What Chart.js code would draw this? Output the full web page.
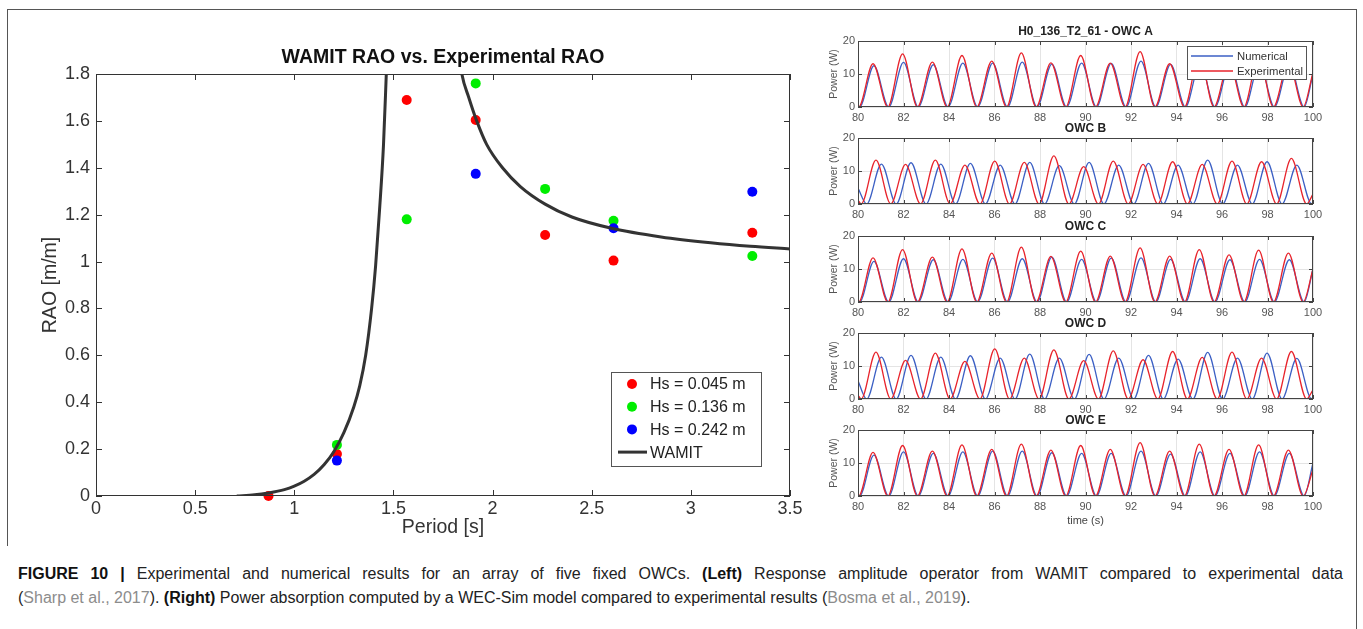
<!DOCTYPE html>
<html lang="en">
<head>
<meta charset="UTF-8">
<title>Figure 10 - OWC array</title>
<script src="https://cdn.jsdelivr.net/npm/chart.js@4.4.0/dist/chart.umd.min.js"></script>
<style>
  body { margin: 0; background: #fff; width: 1363px; height: 629px; position: relative; overflow: hidden;
         font-family: "Liberation Sans", Arial, sans-serif; }
  .frame { position: absolute; left: 7px; top: 9px; width: 1348px; height: 536px; border: 1px solid #555; border-bottom: none; }
  .frame-r { position: absolute; left: 1356px; top: 545px; width: 0; height: 84px; border-left: 1px solid #555; }
  canvas { position: absolute; }
  #rao { left: 0; top: 0; }
  .caption { position: absolute; left: 18px; top: 562px; width: 1325px; font-size: 16px; line-height: 24px; color: #222; }
  .caption .l1 { text-align: justify; text-align-last: justify; white-space: nowrap; }
  .caption .l2 { white-space: nowrap; }
  .caption b { color: #111; }
  .caption .ref { color: #8c8c8c; }
</style>
</head>
<body>
<div class="frame"></div>
<div class="frame-r"></div>
<canvas id="rao" width="815" height="545"></canvas>
<canvas id="owcA" width="563" height="130" style="left:800px;top:11px"></canvas>
<canvas id="owcB" width="563" height="130" style="left:800px;top:108px"></canvas>
<canvas id="owcC" width="563" height="130" style="left:800px;top:206px"></canvas>
<canvas id="owcD" width="563" height="130" style="left:800px;top:303px"></canvas>
<canvas id="owcE" width="563" height="130" style="left:800px;top:400px"></canvas>
<div class="caption">
  <div class="l1"><b>FIGURE 10 |</b> Experimental and numerical results for an array of five fixed OWCs. <b>(Left)</b> Response amplitude operator from WAMIT compared to experimental data</div>
  <div class="l2">(<span class="ref">Sharp et al., 2017</span>). <b>(Right)</b> Power absorption computed by a WEC-Sim model compared to experimental results (<span class="ref">Bosma et al., 2019</span>).</div>
</div>

<script>
// ---- left plot: RAO vs period ----
const raoPeriod = [0.87, 1.215, 1.567, 1.915, 2.265, 2.61, 3.31];
const raoHs045 = [0.00, 0.179, 1.689, 1.604, 1.113, 1.004, 1.123];
const raoHs136 = [null, 0.218, 1.180, 1.760, 1.310, 1.174, 1.024];
const raoHs242 = [null, 0.151, null, 1.374, null, 1.142, 1.298];

// WAMIT curve (goes off the top between ~1.46 and ~1.85 s)
const wamitPeriod = [0.71, 0.8, 0.87, 0.95, 1.0, 1.05, 1.1, 1.15, 1.2, 1.25, 1.3, 1.33, 1.36, 1.39, 1.41, 1.43, 1.45, 1.464, 1.5, 1.6,
                     1.7, 1.78, 1.845, 1.88, 1.92, 1.97, 2.05, 2.14, 2.265, 2.4, 2.6, 2.85, 3.1, 3.3, 3.5];
const wamitRAO = [0, 0.005, 0.013, 0.027, 0.042, 0.063, 0.092, 0.133, 0.19, 0.27, 0.38, 0.47, 0.6, 0.8, 0.98, 1.22, 1.5, 1.8, 2.6, 6.0,
                  3.2, 2.2, 1.8, 1.7, 1.6, 1.5, 1.4, 1.32, 1.245, 1.19, 1.142, 1.105, 1.08, 1.065, 1.054];

const raoXTicks = [0, 3.5, 0.5];   // min, max, step
const raoYTicks = [0, 1.8, 0.2];

// ---- right plots: power time series ----
const timeTicks = [80, 100, 2];
const powerTicks = [0, 20, 10];

// OWC A, C, E: numerical and experimental nearly in phase
const troughExpACE = [80.03, 81.31, 82.61, 83.92, 85.22, 86.53, 87.83, 89.13, 90.44, 91.74, 93.05, 94.35, 95.65, 96.96, 98.26, 99.57];
const peakTimeExpACE = [80.66, 81.96, 83.27, 84.57, 85.88, 87.18, 88.48, 89.79, 91.09, 92.40, 93.70, 95.00, 96.31, 97.61, 98.92];
const troughNumACE = [80.07, 81.35, 82.65, 83.96, 85.26, 86.57, 87.87, 89.17, 90.48, 91.78, 93.09, 94.39, 95.69, 97.00, 98.30, 99.61];
const peakTimeNumACE = [80.70, 82.00, 83.31, 84.61, 85.92, 87.22, 88.52, 89.83, 91.13, 92.44, 93.74, 95.04, 96.35, 97.65, 98.96];

// OWC B, D: experimental leads numerical
const troughExpBD = [80.14, 81.44, 82.75, 84.05, 85.36, 86.66, 87.96, 89.27, 90.57, 91.88, 93.18, 94.48, 95.79, 97.09, 98.40, 99.72];
const peakTimeExpBD = [80.79, 82.09, 83.40, 84.70, 86.01, 87.31, 88.61, 89.92, 91.22, 92.53, 93.83, 95.13, 96.44, 97.74, 99.05];
const troughNumBD = [80.38, 81.68, 82.99, 84.29, 85.60, 86.90, 88.20, 89.51, 90.81, 92.12, 93.42, 94.72, 96.03, 97.33, 98.64, 99.94];
const peakTimeNumBD = [81.03, 82.33, 83.64, 84.94, 86.25, 87.55, 88.85, 90.16, 91.46, 92.77, 94.07, 95.37, 96.68, 97.98, 99.29];

const peakExpA = [13.1, 16.1, 13.6, 15.6, 13.9, 16.4, 13.4, 15.6, 13.3, 16.8, 13.1, 15.5, 13.5, 15.3, 13.5];
const peakNumA = [12.5, 13.5, 12.8, 13.3, 13.3, 13.6, 13.0, 13.3, 13.2, 13.9, 12.9, 13.2, 13.0, 13.2, 13.0];
const peakExpB = [13.3, 12.0, 13.3, 11.8, 13.0, 12.6, 14.6, 11.3, 13.0, 12.0, 12.8, 12.0, 13.0, 12.8, 13.8];
const peakNumB = [12.1, 12.5, 12.1, 12.3, 11.8, 12.6, 11.6, 12.6, 11.8, 12.3, 11.8, 13.3, 11.8, 12.8, 11.8];
const peakExpC = [13.4, 15.9, 13.6, 16.1, 14.8, 16.6, 13.8, 15.4, 13.9, 16.4, 13.9, 15.9, 14.3, 15.7, 14.8];
const peakNumC = [12.3, 13.1, 12.8, 12.9, 13.3, 13.1, 13.6, 12.9, 13.3, 13.4, 12.9, 13.1, 12.8, 12.9, 12.8];
const peakExpD = [14.2, 11.7, 13.9, 11.4, 15.2, 12.4, 14.9, 11.6, 14.6, 11.9, 14.4, 12.6, 14.2, 12.4, 14.4];
const peakNumD = [12.7, 13.2, 12.7, 13.1, 12.4, 13.6, 12.4, 13.5, 12.4, 13.2, 12.1, 14.1, 12.4, 13.9, 12.3];
const peakExpE = [13.2, 15.3, 13.6, 15.5, 14.1, 15.7, 13.9, 15.3, 14.1, 16.2, 13.6, 15.7, 14.1, 15.5, 13.9];
const peakNumE = [12.4, 13.4, 12.9, 13.4, 13.6, 13.6, 13.1, 12.9, 12.9, 13.6, 12.7, 13.4, 12.9, 13.4, 12.9];

// value at t = 80 and t = 100 [exp start, exp end, num start, num end]
const edgesA = [0.2, 10.5, 0.5, 10.0];
const edgesB = [1.2, 3.0, 4.8, 0.8];
const edgesC = [0.2, 10.0, 0.5, 10.0];
const edgesD = [1.2, 2.8, 5.5, 0.8];
const edgesE = [0.2, 8.0, 0.5, 10.0];

const RED = '#e8232b', BLUE = '#3b5fc4';
const FONT = '"Liberation Sans", Arial, sans-serif';
Chart.defaults.font.family = FONT;
Chart.defaults.animation = false;

// box, inward ticks, loose texts and legend
const decor = {
  id: 'decor',
  afterDraw(chart, args, o) {
    const { ctx, chartArea: a, scales: { x, y } } = chart;
    ctx.save();
    ctx.strokeStyle = o.boxColor;
    ctx.lineWidth = 1;
    ctx.strokeRect(a.left + 0.5, a.top + 0.5, a.right - a.left - 1, a.bottom - a.top - 1);
    ctx.beginPath();
    x.ticks.forEach(t => {
      const px = Math.round(x.getPixelForValue(t.value)) + 0.5;
      ctx.moveTo(px, a.bottom); ctx.lineTo(px, a.bottom - o.tick);
      ctx.moveTo(px, a.top); ctx.lineTo(px, a.top + o.tick);
    });
    y.ticks.forEach(t => {
      const py = Math.round(y.getPixelForValue(t.value)) + 0.5;
      ctx.moveTo(a.left, py); ctx.lineTo(a.left + o.tick, py);
      ctx.moveTo(a.right, py); ctx.lineTo(a.right - o.tick, py);
    });
    ctx.stroke();

    (o.texts || []).forEach(t => {
      ctx.save();
      ctx.font = t.font;
      ctx.fillStyle = t.color || '#222';
      ctx.textAlign = 'center';
      ctx.textBaseline = 'middle';
      ctx.translate(t.x, t.y);
      if (t.rot) ctx.rotate(-Math.PI / 2);
      ctx.fillText(t.text, 0, 0);
      ctx.restore();
    });

    const lg = o.legend;
    if (lg) {
      ctx.fillStyle = '#fff';
      ctx.fillRect(lg.x, lg.y, lg.w, lg.h);
      ctx.strokeStyle = lg.border;
      ctx.strokeRect(lg.x + 0.5, lg.y + 0.5, lg.w, lg.h);
      ctx.font = lg.font;
      ctx.textBaseline = 'middle';
      ctx.textAlign = 'left';
      lg.items.forEach((it, i) => {
        const cy = lg.y + lg.first + i * lg.row;
        if (it.dot) {
          ctx.fillStyle = it.color;
          ctx.beginPath();
          ctx.arc(lg.x + lg.mark, cy, 5, 0, Math.PI * 2);
          ctx.fill();
        } else {
          ctx.strokeStyle = it.color;
          ctx.lineWidth = it.width;
          ctx.beginPath();
          ctx.moveTo(lg.x + lg.lineFrom, cy);
          ctx.lineTo(lg.x + lg.lineTo, cy);
          ctx.stroke();
        }
        ctx.fillStyle = lg.textColor;
        ctx.fillText(it.label, lg.x + lg.textX, cy + 1);
      });
    }
    ctx.restore();
  }
};

function pairs(xs, ys) {
  return xs.map((v, i) => ({ x: v, y: ys[i] })).filter(d => d.y !== null);
}

// matlab style: 1 instead of 1.0
const shortNum = v => String(+v.toFixed(1));

// ---- RAO chart ----
new Chart(document.getElementById('rao'), {
  type: 'scatter',
  data: {
    datasets: [
      { data: pairs(wamitPeriod, wamitRAO), showLine: true, borderColor: '#333', borderWidth: 3,
        pointRadius: 0, cubicInterpolationMode: 'monotone', order: 0 },
      { data: pairs(raoPeriod, raoHs242), backgroundColor: '#0000ff', borderWidth: 0, pointRadius: 5, clip: false, order: 1 },
      { data: pairs(raoPeriod, raoHs136), backgroundColor: '#00ee00', borderWidth: 0, pointRadius: 5, clip: false, order: 2 },
      { data: pairs(raoPeriod, raoHs045), backgroundColor: '#ff0000', borderWidth: 0, pointRadius: 5, clip: false, order: 3 }
    ]
  },
  options: {
    responsive: false,
    layout: { padding: { top: 74, right: 25, left: 0, bottom: 0 } },
    plugins: {
      legend: { display: false },
      tooltip: { enabled: false },
      decor: {
        boxColor: '#333', tick: 6,
        texts: [
          { text: 'WAMIT RAO vs. Experimental RAO', x: 443, y: 58, font: 'bold 19.5px ' + FONT, color: '#111' },
          { text: 'RAO [m/m]', x: 51, y: 285, rot: true, font: '19.5px ' + FONT, color: '#333' },
          { text: 'Period [s]', x: 443, y: 528, font: '19.5px ' + FONT, color: '#333' }
        ],
        legend: {
          x: 611, y: 372, w: 150, h: 94, border: '#555', font: '16px ' + FONT, textColor: '#222',
          first: 12, row: 22.7, mark: 21, lineFrom: 7, lineTo: 36, textX: 39,
          items: [
            { label: 'Hs = 0.045 m', color: '#ff0000', dot: true },
            { label: 'Hs = 0.136 m', color: '#00ee00', dot: true },
            { label: 'Hs = 0.242 m', color: '#0000ff', dot: true },
            { label: 'WAMIT', color: '#333', width: 3 }
          ]
        }
      }
    },
    scales: {
      x: {
        type: 'linear', min: raoXTicks[0], max: raoXTicks[1],
        ticks: { stepSize: raoXTicks[2], color: '#333', font: { size: 18 }, padding: 2, maxRotation: 0, callback: shortNum },
        grid: { display: false, drawTicks: false }, border: { display: false },
        afterFit: s => { s.height = 49; }
      },
      y: {
        min: raoYTicks[0], max: raoYTicks[1],
        ticks: { stepSize: raoYTicks[2], color: '#333', font: { size: 18 }, padding: 6, callback: shortNum },
        grid: { display: false, drawTicks: false }, border: { display: false },
        afterFit: s => { s.width = 96; }
      }
    }
  },
  plugins: [decor]
});

// ---- power panels ----
function wave(troughs, peakTimes, peaks, start, end) {
  const pts = [{ x: timeTicks[0], y: start }];
  troughs.forEach((t, i) => {
    pts.push({ x: t, y: 0 });
    if (i < peakTimes.length) pts.push({ x: peakTimes[i], y: peaks[i] });
  });
  pts.push({ x: timeTicks[1], y: end });
  return pts;
}

function panel(id, title, exp, num, extra) {
  const texts = [
    { text: title, x: 285.5, y: 21, font: 'bold 12px ' + FONT, color: '#222' },
    { text: 'Power (W)', x: 34, y: 63, rot: true, font: '10.5px ' + FONT, color: '#555' }
  ].concat(extra.texts || []);
  new Chart(document.getElementById(id), {
    type: 'line',
    data: {
      datasets: [
        { data: exp, borderColor: RED, borderWidth: 1.3, pointRadius: 0, cubicInterpolationMode: 'monotone', order: 0 },
        { data: num, borderColor: BLUE, borderWidth: 1.3, pointRadius: 0, cubicInterpolationMode: 'monotone', order: 1 }
      ]
    },
    options: {
      responsive: false,
      layout: { padding: { top: 30, right: 50, left: 0, bottom: 0 } },
      plugins: {
        legend: { display: false },
        tooltip: { enabled: false },
        decor: { boxColor: '#444', tick: 4, texts: texts, legend: extra.legend }
      },
      scales: {
        x: {
          type: 'linear', min: timeTicks[0], max: timeTicks[1],
          ticks: { stepSize: timeTicks[2], color: '#555', font: { size: 11 }, padding: 4, maxRotation: 0 },
          grid: { color: '#e4e4e4', drawTicks: false }, border: { display: false },
          afterFit: s => { s.height = 34; }
        },
        y: {
          min: powerTicks[0], max: powerTicks[1],
          ticks: { stepSize: powerTicks[2], color: '#555', font: { size: 11 }, padding: 3 },
          grid: { color: '#e4e4e4', drawTicks: false }, border: { display: false },
          afterFit: s => { s.width = 58; }
        }
      }
    },
    plugins: [decor]
  });
}

panel('owcA', 'H0_136_T2_61 - OWC A',
  wave(troughExpACE, peakTimeExpACE, peakExpA, edgesA[0], edgesA[1]),
  wave(troughNumACE, peakTimeNumACE, peakNumA, edgesA[2], edgesA[3]),
  {
    legend: {
      x: 387, y: 35, w: 119, h: 33, border: '#555', font: '11.3px ' + FONT, textColor: '#333',
      first: 10, row: 15, mark: 0, lineFrom: 4, lineTo: 46, textX: 50,
      items: [
        { label: 'Numerical', color: BLUE, width: 1.3 },
        { label: 'Experimental', color: RED, width: 1.3 }
      ]
    }
  });
panel('owcB', 'OWC B',
  wave(troughExpBD, peakTimeExpBD, peakExpB, edgesB[0], edgesB[1]),
  wave(troughNumBD, peakTimeNumBD, peakNumB, edgesB[2], edgesB[3]), {});
panel('owcC', 'OWC C',
  wave(troughExpACE, peakTimeExpACE, peakExpC, edgesC[0], edgesC[1]),
  wave(troughNumACE, peakTimeNumACE, peakNumC, edgesC[2], edgesC[3]), {});
panel('owcD', 'OWC D',
  wave(troughExpBD, peakTimeExpBD, peakExpD, edgesD[0], edgesD[1]),
  wave(troughNumBD, peakTimeNumBD, peakNumD, edgesD[2], edgesD[3]), {});
panel('owcE', 'OWC E',
  wave(troughExpACE, peakTimeExpACE, peakExpE, edgesE[0], edgesE[1]),
  wave(troughNumACE, peakTimeNumACE, peakNumE, edgesE[2], edgesE[3]),
  { texts: [{ text: 'time (s)', x: 285.5, y: 121, font: '11px ' + FONT, color: '#444' }] });
</script>
</body>
</html>
